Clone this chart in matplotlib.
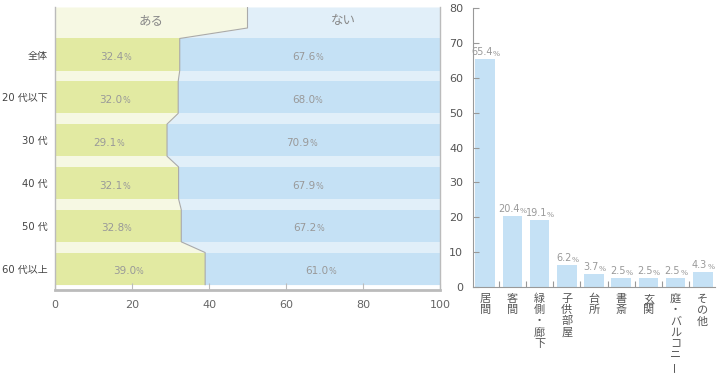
import matplotlib
matplotlib.use('Agg')
import matplotlib.pyplot as plt
import numpy as np

plt.rcParams['font.family'] = ['DejaVu Sans', 'Noto Sans CJK JP']

# left chart data
groups = ['全体', '20 代以下', '30 代', '40 代', '50 代', '60 代以上']
aru = [32.4, 32.0, 29.1, 32.1, 32.8, 39.0]
nai = [67.6, 68.0, 70.9, 67.9, 67.2, 61.0]
header_labels = ['ある', 'ない']

# right chart data
places = ['居間', '客間', '緑側・廊下', '子供部屋', '台所', '書斎', '玄関', '庭・バルコニー', 'その他']
place_vals = [65.4, 20.4, 19.1, 6.2, 3.7, 2.5, 2.5, 2.5, 4.3]

green = '#e2eaa2'
blue = '#c5e1f5'
bg_yellow = '#f6f8e3'
bg_blue = '#e1eff9'
grey_txt = '#999999'
axis_grey = '#bbbbbb'
cjk = ['Noto Sans CJK JP', 'DejaVu Sans']

fig = plt.figure(figsize=(7.2, 3.76), dpi=100)

# ---- left: 100% stacked bars
ax1 = fig.add_axes([55 / 720, 1 - 290 / 376, 385 / 720, 283 / 376])
bh = 0.75
n = len(groups)
ypos = np.arange(n)

# background boundary polyline
top = -1.11
bx = [50, 50]
by = [top, -0.62]
for i, v in enumerate(aru):
    bx += [v, v]
    by += [i - bh / 2, i + bh / 2]
bx = np.array(bx)
by = np.array(by)
ax1.fill_betweenx(by, 0, bx, color=bg_yellow, lw=0)
ax1.fill_betweenx(by, bx, 100, color=bg_blue, lw=0)

ax1.barh(ypos, aru, height=bh, color=green, lw=0)
ax1.barh(ypos, nai, left=aru, height=bh, color=blue, lw=0)
ax1.plot(bx, by, color='#aaaaaa', lw=0.8)

for i in range(n):
    y = i + 0.13
    t = ax1.text(aru[i] / 2 - 1.5, y, f'{aru[i]:.1f}', ha='center', fontsize=7.5, color=grey_txt)
    ax1.annotate('%', xy=(1, 0), xycoords=t, ha='left', va='bottom', fontsize=5.8, color=grey_txt)
    t = ax1.text(aru[i] + nai[i] / 2 - 1.5, y, f'{nai[i]:.1f}', ha='center', fontsize=7.5, color=grey_txt)
    ax1.annotate('%', xy=(1, 0), xycoords=t, ha='left', va='bottom', fontsize=5.8, color=grey_txt)

ax1.text(25, -0.8, header_labels[0], ha='center', va='center', fontsize=9, color='#888888', family=cjk)
ax1.text(75, -0.8, header_labels[1], ha='center', va='center', fontsize=9, color='#888888', family=cjk)

ax1.set_xlim(0, 100)
ax1.set_ylim(5.5, top)
ax1.set_yticks(ypos)
ax1.set_yticklabels(groups, fontsize=7.2, color='#444444')
ax1.tick_params(axis='y', length=0, pad=5)
ax1.set_xticks([0, 20, 40, 60, 80, 100])
ax1.tick_params(axis='x', direction='in', length=5, color=axis_grey, labelsize=8,
                labelcolor='#666666', pad=7)
ax1.spines['top'].set_visible(False)
for s in ['left', 'right']:
    ax1.spines[s].set_color(axis_grey)
    ax1.spines[s].set_linewidth(1)
ax1.spines['bottom'].set_color(axis_grey)
ax1.spines['bottom'].set_linewidth(2)

# ---- right: bar chart
ax2 = fig.add_axes([473 / 720, 1 - 287 / 376, 242 / 720, 279 / 376])
xpos = np.arange(len(places))
ax2.bar(xpos, place_vals, width=0.72, color=blue, lw=0)
for x, v in zip(xpos, place_vals):
    t = ax2.annotate(f'{v:.1f}', xy=(x, v), xytext=(-2.3, 1.5), textcoords='offset points',
                     ha='center', va='bottom', fontsize=7, color=grey_txt)
    ax2.annotate('%', xy=(1, 0), xycoords=t, ha='left', va='bottom', fontsize=5.4, color=grey_txt)

ax2.set_xlim(-0.45, len(places) - 0.55)
ax2.set_ylim(0, 80)
ax2.set_yticks(np.arange(0, 81, 10))
ax2.tick_params(axis='y', direction='in', length=4, color='#999999', labelsize=8,
                labelcolor='#555555', pad=7)
ax2.set_xticks(xpos[:-1] + 0.5)
ax2.set_xticklabels([])
ax2.tick_params(axis='x', direction='in', length=4, color='#999999')
ax2.spines['top'].set_visible(False)
ax2.spines['right'].set_visible(False)
ax2.spines['left'].set_color('#999999')
ax2.spines['bottom'].set_color('#999999')

# vertical category labels, one char per line
for x, name in zip(xpos, places):
    for k, ch in enumerate(name):
        rot = 90 if ch == 'ー' else 0
        ax2.annotate(ch, xy=(x, 0), xycoords=('data', 'axes fraction'),
                     xytext=(0, -8.6 - k * 8.1), textcoords='offset points',
                     ha='center', va='center', fontsize=8, color='#555555', rotation=rot,
                     family=cjk)

fig.savefig('out.png', dpi=100)
